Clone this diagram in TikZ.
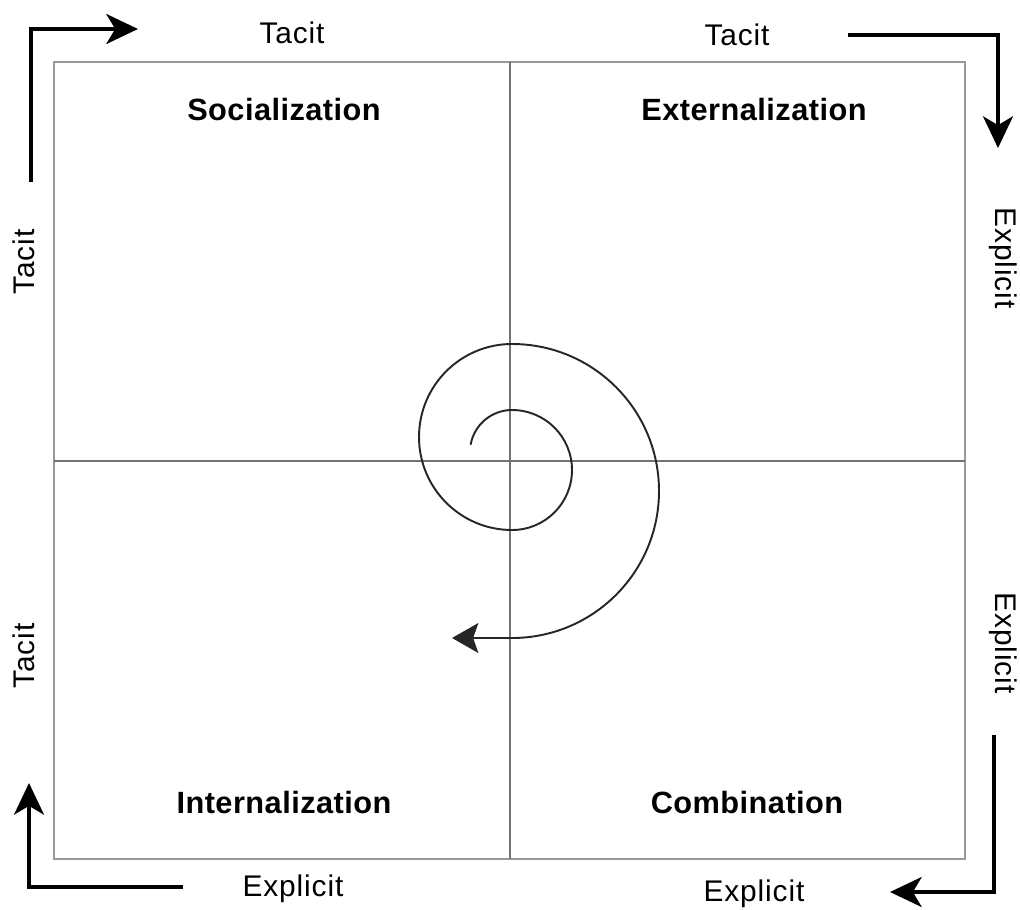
\documentclass[tikz,border=0pt]{standalone}
\usepackage{fontspec}
\setmainfont{Liberation Sans}
\usetikzlibrary{arrows.meta}

\begin{document}
\begin{tikzpicture}[x=0.02cm, y=-0.02cm,
    axisLabel/.style={font=\fontsize{17}{19}\selectfont\addfontfeatures{LetterSpace=3}},
    modeLabel/.style={font=\fontsize{17.5}{20}\selectfont\bfseries\addfontfeatures{LetterSpace=1.5}},
    flowArrow/.style={line width=2.3pt, -{Stealth[length=18pt, width=17pt, inset=5pt]}},
    frameLine/.style={draw=black!40, line width=1.1pt},
    crossLine/.style={draw=black!55, line width=1pt}]
    \useasboundingbox (0,0) rectangle (1020,909);

    % frame and the two axes
    \coordinate (nw) at (54,62);
    \coordinate (se) at (965,859);
    \coordinate (topMid) at (510,62);
    \coordinate (botMid) at (510,859);
    \coordinate (leftMid) at (54,461);
    \coordinate (rightMid) at (965,461);
    \draw[frameLine] (nw) rectangle (se);
    \draw[crossLine] (topMid) -- (botMid);
    \draw[crossLine] (leftMid) -- (rightMid);

    % the four modes
    \node[modeLabel](soc) at (284,110) {Socialization};
    \node[modeLabel](ext) at (754,110) {Externalization};
    \node[modeLabel](int) at (284,802) {Internalization};
    \node[modeLabel](comb) at (747,802) {Combination};

    % axis labels
    \node[axisLabel](tacitTL) at (292,33) {Tacit};
    \node[axisLabel](tacitTR) at (737,35) {Tacit};
    \node[axisLabel, rotate=90](tacitL1) at (24,262) {Tacit};
    \node[axisLabel, rotate=90](tacitL2) at (24,656) {Tacit};
    \node[axisLabel, rotate=-90](explR1) at (1003,258) {Explicit};
    \node[axisLabel, rotate=-90](explR2) at (1003,643) {Explicit};
    \node[axisLabel](explBL) at (293,889) {Explicit};
    \node[axisLabel](explBR) at (754,894) {Explicit};

    % corner arrows
    \coordinate (tlStart) at (31,182);
    \coordinate (tlEnd) at (138,29);
    \coordinate (trStart) at (848,35);
    \coordinate (trEnd) at (998,148);
    \coordinate (blStart) at (183,887);
    \coordinate (blEnd) at (29,783);
    \coordinate (brStart) at (994,735);
    \coordinate (brEnd) at (890,892);
    \draw[flowArrow] (tlStart) |- (tlEnd);
    \draw[flowArrow] (trStart) -| (trEnd);
    \draw[flowArrow] (blStart) -| (blEnd);
    \draw[flowArrow] (brStart) |- (brEnd);

    % spiral
    \coordinate (spiralStart) at ({512+42*cos(190)},{452+42*sin(190)});
    \coordinate (spiralEnd) at (452,638);
    \draw[line width=1.1pt, black!85, -{Stealth[length=15pt, width=17pt, inset=3pt]}]
        (spiralStart) arc[start angle=190, end angle=270, radius=42]
        arc[start angle=270, end angle=450, radius=60]
        arc[start angle=90, end angle=270, radius=93]
        arc[start angle=270, end angle=450, radius=147]
        -- (spiralEnd);
\end{tikzpicture}
\end{document}
